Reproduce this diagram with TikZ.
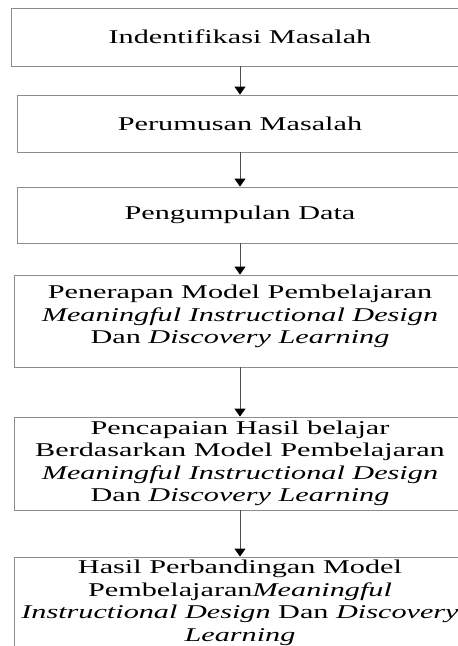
\documentclass[tikz,border=0pt]{standalone}
\usepackage{fontspec}
\setmainfont{Liberation Serif}[FakeStretch=1.55]
\usetikzlibrary{arrows.meta}
\begin{document}
\begin{tikzpicture}[x=1pt, y=-1pt,
  >={Triangle[length=8pt, width=11pt, color=black]},
  every node/.style={font=\fontsize{19.5}{22.5}\selectfont},
  stage/.style={draw=black!45, line width=0.8pt, align=center, inner sep=2pt, minimum width=451pt},
  flow/.style={->, draw=black!70, line width=0.8pt}]
  \useasboundingbox (0,0) rectangle (458,646);
  \clip (0,0) rectangle (458,646);

  \node[stage, minimum width=457pt, minimum height=58pt] (ident) at (240,37) {Indentifikasi Masalah};
  \node[stage, minimum width=446pt, minimum height=57pt] (rumus) at (240,123.5) {Perumusan Masalah};
  \node[stage, minimum width=446pt, minimum height=56pt] (data) at (240,215) {Pengumpulan Data};
  \node[stage, minimum height=92pt] (terap) at (240,321)
    {Penerapan Model Pembelajaran\\ \textit{Meaningful Instructional Design}\\ Dan \textit{Discovery Learning}\\[-16pt] \strut};
  \node[stage, minimum height=93pt] (capai) at (240,463.5)
    {Pencapaian Hasil belajar\\ Berdasarkan Model Pembelajaran\\ \textit{Meaningful Instructional Design}\\ Dan \textit{Discovery Learning}};
  \node[stage, minimum height=92pt] (banding) at (240,603)
    {Hasil Perbandingan Model\\ Pembelajaran\textit{Meaningful}\\ \textit{Instructional Design} Dan \textit{Discovery}\\ \textit{Learning}};

  \draw[flow] (ident) -- (rumus);
  \draw[flow] (rumus) -- (data);
  \draw[flow] (data) -- (terap);
  \draw[flow] (terap) -- (capai);
  \draw[flow] (capai) -- (banding);
\end{tikzpicture}
\end{document}
